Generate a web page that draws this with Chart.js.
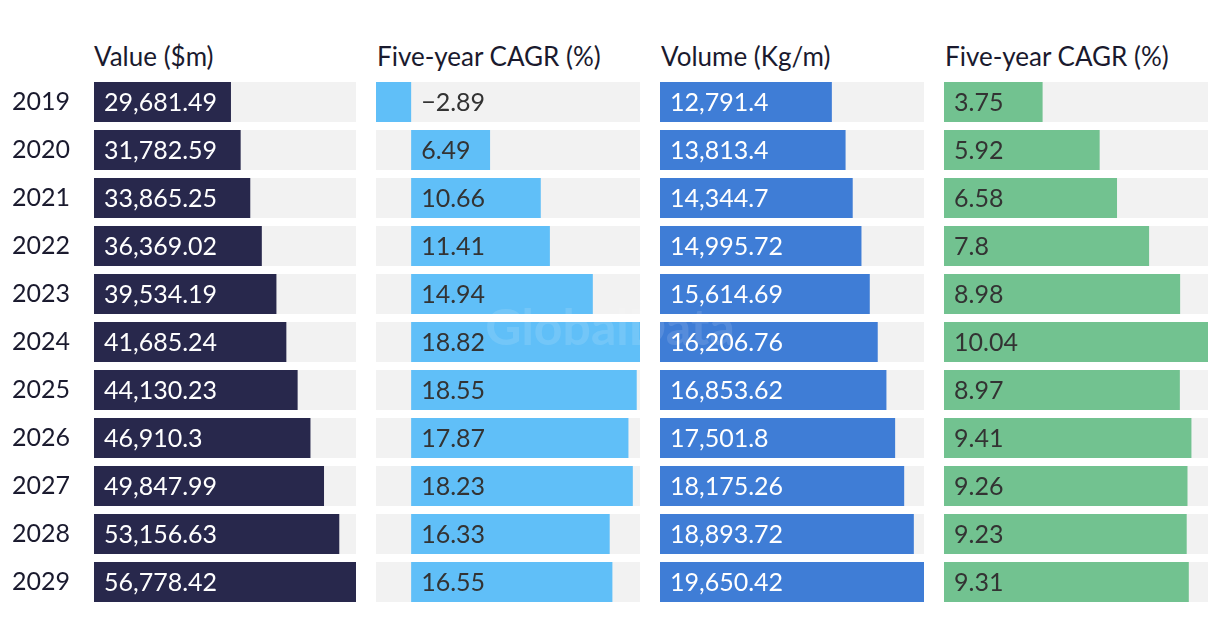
<!DOCTYPE html>
<html>
<head>
<meta charset="utf-8">
<script src="https://cdn.jsdelivr.net/npm/chart.js@4.4.3/dist/chart.umd.min.js"></script>
<style>
  html, body { margin: 0; padding: 0; background: #ffffff; }
  #wrap { position: relative; width: 1220px; height: 644px; overflow: hidden; font-family: Lato, "Liberation Sans", sans-serif; }
  canvas { position: absolute; }
  .head { position: absolute; top: 40px; font-size: 26px; line-height: 32px; color: #1a1a2e; white-space: nowrap; }
  #mark { position: absolute; left: 0; width: 1220px; top: 296px; text-align: center; font-size: 50px; font-weight: bold; color: rgba(255,255,255,0.12); pointer-events: none; }
</style>
</head>
<body>
<div id="wrap">
  <canvas id="c1" width="356" height="528" style="left:0;top:78px"></canvas>
  <canvas id="c2" width="264" height="528" style="left:376px;top:78px"></canvas>
  <canvas id="c3" width="264" height="528" style="left:660px;top:78px"></canvas>
  <canvas id="c4" width="264" height="528" style="left:944px;top:78px"></canvas>
  <div class="head" style="left:94px">Value ($m)</div>
  <div class="head" style="left:377px">Five-year CAGR (%)</div>
  <div class="head" style="left:661px">Volume (Kg/m)</div>
  <div class="head" style="left:945px">Five-year CAGR (%)</div>
  <div id="mark">GlobalData</div>
</div>
<script>
const years = ["2019", "2020", "2021", "2022", "2023", "2024", "2025", "2026", "2027", "2028", "2029"];
const valueM = [29681.49, 31782.59, 33865.25, 36369.02, 39534.19, 41685.24, 44130.23, 46910.3, 49847.99, 53156.63, 56778.42];
const valueCagr = [-2.89, 6.49, 10.66, 11.41, 14.94, 18.82, 18.55, 17.87, 18.23, 16.33, 16.55];
const volumeKg = [12791.4, 13813.4, 14344.7, 14995.72, 15614.69, 16206.76, 16853.62, 17501.8, 18175.26, 18893.72, 19650.42];
const volumeCagr = [3.75, 5.92, 6.58, 7.8, 8.98, 10.04, 8.97, 9.41, 9.26, 9.23, 9.31];

const TRACK = "#f2f2f2";
const FONT = "Lato, 'Liberation Sans', sans-serif";

function fmt(v) {
  return v.toLocaleString("en-US", { maximumFractionDigits: 2 }).replace("-", "\u2212");
}

// draws the value text just right of the zero line in each row
const valueLabels = {
  id: "valueLabels",
  afterDatasetsDraw(chart, args, opts) {
    const ctx = chart.ctx;
    const x0 = chart.scales.x.getPixelForValue(0);
    const meta = chart.getDatasetMeta(1);
    const data = chart.data.datasets[1].data;
    ctx.save();
    ctx.font = "25px " + FONT;
    ctx.fillStyle = opts.color;
    ctx.textBaseline = "middle";
    ctx.textAlign = "left";
    meta.data.forEach((bar, i) => ctx.fillText(fmt(data[i]), x0 + 10, bar.y + 1));
    ctx.restore();
  },
};

function renderPanel(canvasId, values, color, textColor, showYears) {
  const min = Math.min(0, ...values);
  const max = Math.max(...values);
  const yAxis = { display: false };
  if (showYears) {
    Object.assign(yAxis, {
      display: true,
      grid: { display: false },
      border: { display: false },
      afterFit: (s) => { s.width = 82; s.paddingTop = 0; s.paddingBottom = 0; },
      ticks: { crossAlign: "far", color: "#1a1a2e", font: { family: FONT, size: 25 } },
    });
  }
  return new Chart(document.getElementById(canvasId), {
    type: "bar",
    data: {
      labels: years,
      datasets: [
        { data: years.map(() => [min, max]), backgroundColor: TRACK, order: 2, grouped: false },
        { data: values, backgroundColor: color, order: 1, grouped: false },
      ],
    },
    options: {
      indexAxis: "y",
      responsive: false,
      animation: false,
      devicePixelRatio: 1,
      barPercentage: 40 / 48,
      categoryPercentage: 1,
      layout: { padding: { left: showYears ? 12 : 0, right: 0, top: 0, bottom: 0 } },
      plugins: { legend: { display: false }, tooltip: { enabled: false }, valueLabels: { color: textColor } },
      scales: {
        x: { display: false, min, max },
        y: yAxis,
      },
    },
    plugins: [valueLabels],
  });
}

renderPanel("c1", valueM, "#28284c", "#ffffff", true);
renderPanel("c2", valueCagr, "#60bff8", "#333333", false);
renderPanel("c3", volumeKg, "#3f7dd6", "#ffffff", false);
renderPanel("c4", volumeCagr, "#72c290", "#333333", false);
</script>
</body>
</html>
